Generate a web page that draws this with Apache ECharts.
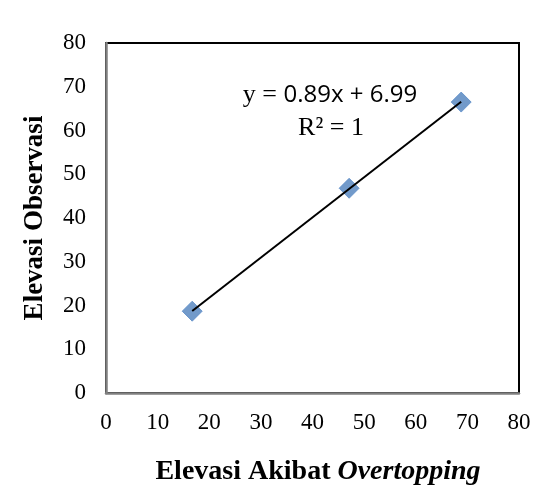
<!DOCTYPE html>
<html style="height: 100%">
<head>
    <meta charset="utf-8">
</head>
<body style="height: 100%; margin: 0; background: #fff">
<div id="container" style="width: 552px; height: 502px"></div>
<script type="text/javascript" src="https://cdn.jsdelivr.net/npm/echarts@6/dist/echarts.min.js"></script>
<script type="text/javascript">
    // data
    var elevAkibat = [16.7, 47.1, 68.8];   // x: Elevasi Akibat Overtopping
    var elevObs = [18.7, 46.8, 66.5];      // y: Elevasi Observasi
    var axisTicks = [0, 10, 20, 30, 40, 50, 60, 70, 80];
    var eqText = '0.89x + 6.99';
    var r2Text = 'R² = 1';

    // least squares trendline over the data range
    var n = elevAkibat.length, sx = 0, sy = 0, sxy = 0, sxx = 0;
    for (var i = 0; i < n; i++) {
        sx += elevAkibat[i]; sy += elevObs[i];
        sxy += elevAkibat[i] * elevObs[i]; sxx += elevAkibat[i] * elevAkibat[i];
    }
    var slope = (n * sxy - sx * sy) / (n * sxx - sx * sx);
    var icpt = (sy - slope * sx) / n;
    var xMin = Math.min.apply(null, elevAkibat), xMax = Math.max.apply(null, elevAkibat);
    var trend = [[xMin, slope * xMin + icpt], [xMax, slope * xMax + icpt]];

    var pts = elevAkibat.map(function (x, i) { return [x, elevObs[i]]; });

    var dom = document.getElementById("container");
    var myChart = echarts.init(dom);
    var serif = '"Liberation Serif", "Times New Roman", serif';

    var option = {
        backgroundColor: '#fff',
        animation: false,
        grid: {
            left: 106, right: 33, top: 43, bottom: 109,
            show: true, borderColor: '#000', borderWidth: 2
        },
        xAxis: {
            type: 'value',
            min: axisTicks[0], max: axisTicks[axisTicks.length - 1], interval: 10,
            axisLine: {onZero: false, lineStyle: {color: '#808080', width: 2.5}},
            axisTick: {show: false},
            splitLine: {show: false},
            axisLabel: {color: '#000', fontFamily: serif, fontSize: 23, margin: 18}
        },
        yAxis: {
            type: 'value',
            min: axisTicks[0], max: axisTicks[axisTicks.length - 1], interval: 10,
            name: 'Elevasi Observasi',
            nameLocation: 'middle',
            nameGap: 57,
            nameTextStyle: {color: '#000', fontFamily: serif, fontSize: 27, fontWeight: 'bold'},
            axisLine: {onZero: false, lineStyle: {color: '#808080', width: 2.5}},
            axisTick: {show: false},
            splitLine: {show: false},
            axisLabel: {color: '#000', fontFamily: serif, fontSize: 23, margin: 20}
        },
        graphic: [
            {
                type: 'text',
                style: {
                    x: 318, y: 472,
                    align: 'center', verticalAlign: 'middle',
                    text: '{b|Elevasi Akibat }{i|Overtopping}',
                    rich: {
                        b: {fontFamily: serif, fontSize: 28, fontWeight: 'bold', fill: '#000'},
                        i: {fontFamily: serif, fontSize: 28, fontWeight: 'bold', fontStyle: 'italic', fill: '#000'}
                    }
                }
            },
            {
                type: 'text',
                style: {
                    x: 330, y: 95,
                    align: 'center', verticalAlign: 'middle',
                    text: '{s|y = }{c|' + eqText + '}',
                    rich: {
                        s: {fontFamily: serif, fontSize: 26, fill: '#000'},
                        c: {fontFamily: '"Open Sans", sans-serif', fontSize: 24, fill: '#000'}
                    }
                }
            },
            {
                type: 'text',
                style: {
                    x: 331, y: 128,
                    align: 'center', verticalAlign: 'middle',
                    text: r2Text,
                    font: '26px ' + serif,
                    fill: '#000'
                }
            }
        ],
        series: [
            {
                type: 'line',
                data: trend,
                symbol: 'none',
                lineStyle: {color: '#000', width: 2},
                z: 3
            },
            {
                type: 'scatter',
                data: pts,
                symbol: 'diamond',
                symbolSize: 20,
                itemStyle: {color: '#4F81BD', borderColor: '#5B8CC8', borderWidth: 1},
                z: 2
            }
        ]
    };
    myChart.setOption(option);
</script>
</body>
</html>
